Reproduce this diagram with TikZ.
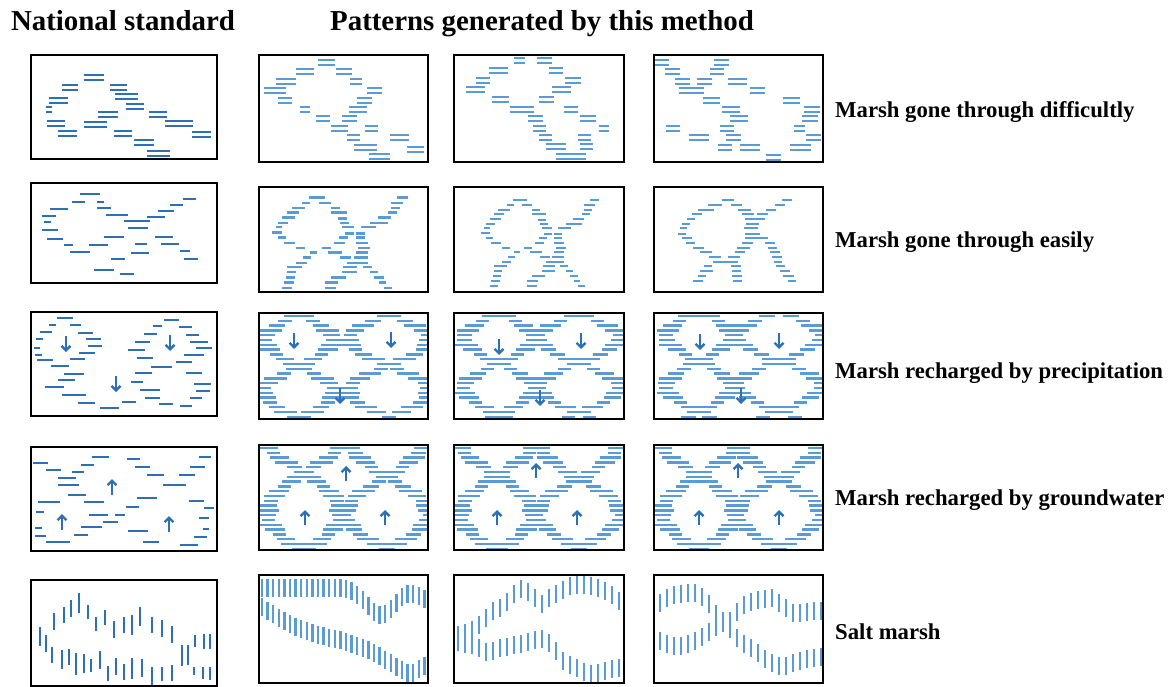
\documentclass[tikz,border=0pt]{standalone}
\usepackage{fontspec}
\setmainfont{Liberation Serif}
\usetikzlibrary{arrows.meta}

\definecolor{stdblue}{RGB}{46,112,182}
\definecolor{genblue}{RGB}{91,155,213}

% two mirrored sine curves crossing at nodes, drawn as rows of dashes
\newcommand{\lenses}[1]{%
  \foreach \cx/\amp/\yn/\per in {#1}{
    \foreach \yy in {3,7.8,...,104}{
      \pgfmathsetmacro{\sh}{\amp*sin(180*(\yy-\yn)/\per)}
      \pgfmathsetmacro{\hw}{9+2.5*sin(97*\yy+5*\cx)}
      \pgfmathsetmacro{\jt}{3*sin(71*\yy+7*\cx)}
      \draw[gendash] ({\cx+\sh-\hw+\jt},\yy) -- ({\cx+\sh+\hw+\jt},\yy)
                     ({\cx-\sh-\hw-\jt},\yy) -- ({\cx-\sh+\hw-\jt},\yy);
    }
  }
}

\begin{document}
\begin{tikzpicture}[%
      x=1bp, y=-1bp,
      cellbox/.style={draw=black, line width=2.4bp},
      stddash/.style={stdblue, line width=2.3bp},
      gendash/.style={genblue, line width=2.5bp},
      flow/.style={stdblue, line width=2.4bp, -{Straight Barb[length=4.5bp,width=9bp]}},
      head/.style={font=\fontsize{29}{34}\selectfont\bfseries, anchor=base, inner sep=0pt},
      rowlabel/.style={font=\fontsize{22.8}{26}\selectfont\bfseries, anchor=base west, inner sep=0pt},
      declare function={
        upB(\x) = 13 + 27*exp(-((\x-122)/20)^2) + 12*exp(-((\x-170)/15)^2);
        lowB(\x) = 30 + 0.46*\x + 5*sin(2.5*\x) - 20*exp(-((\x-168)/12)^2);
      }
      ]
      \useasboundingbox (0,0) rectangle (1170,687);

      % Titles
      \node[head] (natstd) at (123,31) {National standard};
      \node[head] (method) at (542,31) {Patterns generated by this method};

      \node[rowlabel] (difficult) at (835,117.5) {Marsh gone through difficultly};
      \node[rowlabel] (easy) at (835,247.5) {Marsh gone through easily};
      \node[rowlabel] (precip) at (835,378.5) {Marsh recharged by precipitation};
      \node[rowlabel] (ground) at (835,505.5) {Marsh recharged by groundwater};
      \node[rowlabel] (salt) at (835,639.5) {Salt marsh};

      % Row 1: paired dashes
      \begin{scope}[shift={(31,55)}]
        \foreach \xa/\xb/\y in {53/73/20, 31/47/30, 79/96/30, 18/37/43, 84/107/39,
          95/113/49, 15/21/52, 67/87/57, 118/136/57, 16/34/66, 53/76/67, 134/162/66,
          27/46/76, 83/101/76, 161/180/77, 103/123/85, 116/139/96}{
          \draw[stddash, line width=2bp] (\xa,\y) -- (\xb,\y) (\xa,\y+4.8) -- (\xb,\y+4.8);
        }
      \end{scope}
      \begin{scope}[shift={(259,55)}]
        \foreach \xa/\xb/\y in {59/76/5, 37/55/14, 77/93/14, 17/37/24, 91/103/24,
          5/27/33, 108/123/33, 19/33/43, 98/113/43, 41/51/52, 90/108/52, 57/71/61,
          83/98/61, 72/89/71, 106/119/71, 88/101/80, 131/150/80, 95/118/90,
          148/165/92, 110/131/99}{
          \draw[gendash, line width=2.2bp] (\xa,\y) -- (\xb,\y) (\xa,\y+4.8) -- (\xb,\y+4.8);
        }
      \end{scope}
      \begin{scope}[shift={(454,56)}]
        \foreach \xa/\xb/\y in {60/71/2, 83/98/2, 35/54/12, 95/109/12, 22/36/22,
          111/127/22, 12/31/31, 98/117/31, 38/55/41, 85/100/41, 56/80/51, 110/124/51,
          74/89/60, 126/142/60, 79/92/70, 145/155/70, 85/98/79, 124/137/79,
          92/112/88, 126/139/88, 102/132/98}{
          \draw[gendash, line width=2.2bp] (\xa,\y) -- (\xb,\y) (\xa,\y+4.8) -- (\xb,\y+4.8);
        }
      \end{scope}
      \begin{scope}[shift={(654,56)}]
        \foreach \xa/\xb/\y in {1/15/4, 60/75/4, 11/26/13, 56/70/13, 21/36/23,
          43/58/23, 74/93/23, 25/50/32, 96/111/32, 49/66/42, 129/146/42, 68/86/51,
          150/166/51, 76/94/60, 148/164/60, 12/26/70, 66/80/70, 140/151/70,
          35/55/79, 72/87/79, 152/167/79, 64/78/89, 86/106/89, 136/157/89, 112/127/99}{
          \draw[gendash, line width=2.2bp] (\xa,\y) -- (\xb,\y) (\xa,\y+4.8) -- (\xb,\y+4.8);
        }
      \end{scope}

      % Row 2: single dashes
      \def\easyloop{59/73/13, 53/60/18, 68/78/18, 44/56/23, 78/86/23, 40/50/27,
        78/92/27, 36/47/32, 84/92/33, 32/41/37, 86/94/37, 30/36/41, 88/98/41,
        104/117/41, 27/36/46, 90/98/47, 100/108/47, 32/39/51, 85/93/51, 100/108/51,
        37/47/56, 81/90/56, 100/110/56, 48/56/61, 70/78/61, 102/112/61, 60/66/65,
        76/88/65, 100/110/65, 54/61/70, 86/96/70, 98/110/70, 48/57/75, 92/110/75,
        40/53/79, 89/101/79, 106/114/79, 40/48/84, 88/101/84, 112/119/84, 39/47/89,
        78/91/89, 116/124/89, 37/46/94, 73/84/94, 120/126/94, 36/44/99, 73/83/99,
        124/131/99, 136/145/13, 130/141/18, 130/138/23, 128/136/27, 119/130/32,
        112/128/37}
      \begin{scope}[shift={(31,183)}]
        \foreach \xa/\xb/\y in {49/69/11, 41/54/19, 66/73/19, 19/37/26, 66/80/25,
          152/165/16, 139/152/22, 127/143/28, 11/25/33, 75/97/32, 116/134/34,
          13/20/39, 93/119/38, 11/27/47, 97/117/45, 16/32/56, 73/93/54, 124/142/54,
          33/42/62, 58/77/62, 104/116/61, 130/148/61, 39/59/69, 100/118/70,
          149/159/68, 80/94/76, 153/167/76, 63/83/87, 89/103/91}{
          \draw[stddash] (\xa,\y) -- (\xb,\y);
        }
      \end{scope}
      \begin{scope}[shift={(241,184)}, xscale=1.15, yscale=1.05]
        \foreach \xa/\xb/\y in \easyloop{
          \draw[gendash] (\xa,\y) -- (\xb,\y);
        }
      \end{scope}
      \begin{scope}[shift={(454,187)}]
        \foreach \xa/\xb/\y in \easyloop{
          \draw[gendash] (\xa,\y) -- (\xb,\y);
        }
      \end{scope}
      \begin{scope}[shift={(654,187)}]
        \foreach \xa/\xb/\y in {68/80/13, 128/138/13, 54/68/18, 77/88/18, 121/131/18,
          44/60/23, 84/97/23, 112/122/23, 38/48/27, 88/100/27, 103/114/27, 33/41/32,
          91/111/32, 28/36/37, 92/105/37, 26/33/41, 90/104/41, 24/32/47, 91/106/47,
          28/38/51, 91/114/51, 32/41/56, 88/99/56, 111/121/56, 39/50/61, 83/96/61,
          114/123/61, 46/58/65, 81/91/65, 116/126/65, 55/67/70, 74/86/70, 118/128/70,
          59/84/75, 120/128/75, 50/58/79, 77/87/79, 122/131/79, 46/59/84, 78/87/84,
          126/136/84, 44/52/89, 78/88/89, 129/140/89, 39/49/94, 79/88/94, 134/142/94}{
          \draw[gendash] (\xa,\y) -- (\xb,\y);
        }
      \end{scope}

      % Row 3: dashes with rain arrows
      \begin{scope}[shift={(31,312)}]
        \foreach \xa/\xb/\y in {26/42/6, 18/25/13, 39/50/13, 9/21/20, 47/62/21,
          5/12/27, 55/70/27, 3/9/36, 57/71/34, 4/11/43, 48/64/41, 6/22/48, 39/54/47,
          20/38/54, 33/53/62, 27/44/68, 14/33/75, 31/55/83, 47/64/91, 69/88/96,
          91/105/90, 100/112/70, 109/129/78, 114/129/86, 128/142/92, 149/161/94,
          104/121/61, 120/141/55, 106/122/46, 97/114/38, 104/119/30, 113/126/22,
          122/131/14, 133/148/8, 148/161/15, 155/168/23, 159/177/30, 165/181/36,
          153/173/43, 145/161/50, 155/171/61, 163/180/72, 165/179/79, 159/171/86}{
          \draw[stddash] (\xa,\y) -- (\xb,\y);
        }
        \foreach \ax/\ay in {35/24, 139/23, 85/64}{
          \draw[flow] (\ax,\ay) -- (\ax,\ay+16);
        }
      \end{scope}
      \begin{scope}[shift={(259,313)}]
        \clip (0,0) rectangle (169,106);
        \lenses{40/36/52/52, 130/38/52/52}
        \foreach \ax/\ay in {35/20, 132/19, 81/75}{
          \draw[flow] (\ax,\ay) -- (\ax,\ay+16);
        }
      \end{scope}
      \begin{scope}[shift={(454,313)}]
        \clip (0,0) rectangle (170,106);
        \lenses{45/38/50/50, 125/38/50/50}
        \foreach \ax/\ay in {45/26, 127/20, 86/77}{
          \draw[flow] (\ax,\ay) -- (\ax,\ay+16);
        }
      \end{scope}
      \begin{scope}[shift={(654,313)}]
        \clip (0,0) rectangle (169,106);
        \lenses{45/36/48/50, 125/40/48/50}
        \foreach \ax/\ay in {46/21, 125/20, 87/75}{
          \draw[flow] (\ax,\ay) -- (\ax,\ay+16);
        }
      \end{scope}

      % Row 4: dashes with rising arrows
      \begin{scope}[shift={(31,447)}]
        \foreach \xa/\xb/\y in {2/17/16, 15/30/23, 61/78/10, 50/63/18, 41/53/25,
          27/45/31, 27/48/38, 37/55/48, 7/29/55, 53/73/55, 5/13/65, 58/77/68,
          84/94/68, 72/87/75, 50/71/80, 4/11/81, 4/15/89, 43/57/88, 15/39/95,
          96/109/12, 104/119/20, 116/133/28, 132/155/38, 106/126/51, 95/108/60,
          97/117/84, 112/128/95, 149/167/98, 148/164/28, 159/174/20, 168/180/10,
          158/173/54, 173/183/61, 168/178/71, 172/178/82, 163/176/90}{
          \draw[stddash] (\xa,\y) -- (\xb,\y);
        }
        \foreach \ax/\ay in {81/48, 31/83, 138/85}{
          \draw[flow] (\ax,\ay) -- (\ax,\ay-16);
        }
      \end{scope}
      \begin{scope}[shift={(259,445)}]
        \clip (0,0) rectangle (169,105);
        \lenses{45/40/30/75, 128/40/30/75}
        \foreach \ax/\ay in {87/36, 46/80, 126/80}{
          \draw[flow] (\ax,\ay) -- (\ax,\ay-15);
        }
      \end{scope}
      \begin{scope}[shift={(454,445)}]
        \clip (0,0) rectangle (170,105);
        \lenses{43/40/32/72, 125/40/32/72}
        \foreach \ax/\ay in {82/33, 43/80, 123/80}{
          \draw[flow] (\ax,\ay) -- (\ax,\ay-15);
        }
      \end{scope}
      \begin{scope}[shift={(654,445)}]
        \clip (0,0) rectangle (169,105);
        \lenses{45/40/32/72, 125/40/32/72}
        \foreach \ax/\ay in {84/33, 45/80, 125/80}{
          \draw[flow] (\ax,\ay) -- (\ax,\ay-15);
        }
      \end{scope}

      % Row 5: vertical dashes
      \begin{scope}[shift={(32,580)}]
        \foreach \x/\ya/\yb in {8/47/66, 14/55/72, 20/67/83, 22/33/50, 30/70/89,
          32/27/43, 37/69/85, 39/20/37, 44/73/95, 47/13/33, 52/74/93, 56/25/39,
          59/79/92, 64/37/51, 68/71/89, 73/30/45, 76/86/101, 82/41/58, 84/78/95,
          92/37/53, 92/84/100, 100/35/55, 100/78/99, 108/27/46, 110/79/97,
          120/37/53, 120/87/105, 130/40/57, 130/87/101, 140/46/63, 140/85/101,
          150/65/86, 156/65/85, 163/55/67, 162/87/95, 172/54/69, 171/87/99,
          178/54/69, 178/87/100}{
          \draw[stddash] (\x,\ya) -- (\x,\yb);
        }
      \end{scope}
      \begin{scope}[shift={(259,575)}]
        \foreach \x in {3,8.6,...,166}{
          \draw[gendash] (\x,{upB(\x)-9}) -- (\x,{upB(\x)+9})
                         (\x,{lowB(\x)-9}) -- (\x,{lowB(\x)+9});
        }
      \end{scope}
      \begin{scope}[shift={(454,575)}]
        % upper band
        \foreach \x/\yc in {4/60, 11/58, 18/55, 25/50, 32/43, 39/36, 46/33, 53/27,
          60/19, 67/14, 74/17, 81/23, 88/29, 95/23, 102/19, 109/15, 116/11, 123/10,
          130/10, 137/11, 144/13, 151/16, 158/20, 165/26}{
          \draw[gendash] (\x,\yc-9) -- (\x,\yc+9);
        }
        % lower band
        \foreach \x/\yc in {4/67, 11/69, 18/70, 25/73, 32/77, 39/76, 46/73, 53/72,
          60/70, 67/69, 74/67, 81/65, 88/64, 95/68, 102/76, 109/86, 116/90, 123/93,
          130/97, 137/99, 144/98, 151/96, 158/94, 165/93}{
          \draw[gendash] (\x,\yc-9) -- (\x,\yc+9);
        }
      \end{scope}
      \begin{scope}[shift={(654,575)}]
        % upper band
        \foreach \x/\yc in {6/28, 13/23, 20/20, 27/19, 34/18, 41/18, 48/22, 55/29,
          62/39, 69/46, 76/46, 83/37, 90/30, 97/27, 104/25, 111/24, 118/23, 125/28,
          132/33, 139/38, 146/38, 153/37, 160/36, 167/36}{
          \draw[gendash] (\x,\yc-9) -- (\x,\yc+9);
        }
        % lower band
        \foreach \x/\yc in {6/66, 13/69, 20/71, 27/71, 34/69, 41/66, 48/62, 55/57,
          62/52, 69/48, 76/54, 83/63, 90/69, 97/73, 104/78, 111/84, 118/88, 125/91,
          132/91, 139/88, 146/86, 153/84, 160/83, 167/82}{
          \draw[gendash] (\x,\yc-9) -- (\x,\yc+9);
        }
      \end{scope}

      % Frames
      \foreach \ya/\yb in {55/159, 183/283, 312/416, 447/551, 580/686}{
        \draw[cellbox] (31,\ya) rectangle (217,\yb);
      }
      \foreach \xa/\xb in {259/428, 454/624, 654/823}{
        \foreach \ya/\yb in {55/162, 187/292, 313/419, 445/550, 575/683}{
          \draw[cellbox] (\xa,\ya) rectangle (\xb,\yb);
        }
      }

    \end{tikzpicture}
\end{document}
